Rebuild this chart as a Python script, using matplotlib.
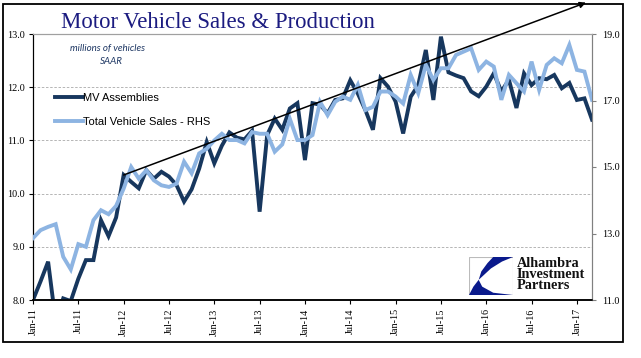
import matplotlib
matplotlib.use("Agg")
import matplotlib.pyplot as plt
from matplotlib.patches import Rectangle, Polygon
import numpy as np

# ===========================
# DATA (monthly, Jan-11 .. Mar-17)
# ===========================
mv_assemblies = [
    8.00, 8.35, 8.72, 7.60, 8.03, 7.98, 8.40, 8.75, 8.75, 9.50, 9.20, 9.55,
    10.35, 10.22, 10.10, 10.44, 10.28, 10.41, 10.32, 10.16, 9.85, 10.08, 10.47, 10.97,
    10.57, 10.90, 11.15, 11.05, 11.02, 11.18, 9.66, 11.10, 11.41, 11.20, 11.60, 11.70,
    10.63, 11.70, 11.67, 11.51, 11.76, 11.79, 12.13, 11.88, 11.57, 11.20, 12.17, 12.01,
    11.73, 11.13, 11.82, 12.04, 12.70, 11.76, 12.95, 12.28, 12.22, 12.17, 11.92, 11.83,
    12.01, 12.26, 11.92, 12.14, 11.61, 12.26, 12.04, 12.17, 12.15, 12.23, 11.98, 12.08,
    11.76, 11.79, 11.39,
]
total_sales = [
    12.86, 13.10, 13.20, 13.28, 12.30, 11.92, 12.68, 12.60, 13.40, 13.70, 13.58, 13.83,
    14.35, 15.00, 14.65, 14.90, 14.60, 14.45, 14.40, 14.50, 15.16, 14.81, 15.41, 15.55,
    15.80, 16.00, 15.81, 15.81, 15.71, 16.05, 16.00, 16.00, 15.46, 15.68, 16.45, 15.81,
    15.81, 15.96, 16.96, 16.56, 16.96, 17.12, 17.02, 17.47, 16.71, 16.81, 17.27, 17.27,
    17.12, 16.91, 17.77, 17.22, 18.07, 17.62, 17.97, 17.97, 18.37, 18.47, 18.57, 17.92,
    18.17, 18.02, 17.02, 17.77, 17.52, 17.27, 18.17, 17.32, 18.07, 18.27, 18.12, 18.67,
    17.92, 17.87, 17.02,
]
tick_labels = ["Jan-11", "Jul-11", "Jan-12", "Jul-12", "Jan-13", "Jul-13", "Jan-14",
               "Jul-14", "Jan-15", "Jul-15", "Jan-16", "Jul-16", "Jan-17"]
left_ticks = [8.0, 9.0, 10.0, 11.0, 12.0, 13.0]
right_ticks = [11.0, 13.0, 15.0, 17.0, 19.0]
trend_start = (12, 10.35)
trend_end = (73.2, 13.59)

months = np.arange(len(mv_assemblies))

# ===========================
# FIGURE
# ===========================
W, H = 641, 358
fig = plt.figure(figsize=(W / 100, H / 100), dpi=100)
fig.patch.set_facecolor("white")

ax = fig.add_axes([33 / W, 1 - 300 / H, (592 - 33) / W, (300 - 34) / H])
ax2 = ax.twinx()

dark = "#17375E"
light = "#8DB4E2"
serif = "Liberation Serif"

ax.plot(months, mv_assemblies, color=dark, lw=2.8, solid_joinstyle="miter",
        label="MV Assemblies", zorder=3)
ax2.plot(months, total_sales, color=light, lw=2.8, solid_joinstyle="miter",
         label="Total Vehicle Sales - RHS", zorder=3)

ax.set_xlim(0, len(months) - 1)
ax.set_ylim(8, 13)
ax2.set_ylim(11, 19)

ax.set_xticks(np.arange(0, len(months), 6))
ax.set_xticklabels(tick_labels, rotation=90, fontfamily=serif, fontsize=7.3)
ax.set_yticks(left_ticks)
ax.set_yticklabels([f"{v:.1f}" for v in left_ticks], fontfamily=serif, fontsize=7.3)
ax2.set_yticks(right_ticks)
ax2.set_yticklabels([f"{v:.1f}" for v in right_ticks], fontfamily=serif, fontsize=7.3)

ax.tick_params(axis="x", direction="out", length=3, width=0.8, pad=3)
ax.tick_params(axis="y", direction="out", length=3, width=0.8, pad=3)
ax2.tick_params(axis="y", direction="out", length=3, width=0.8, pad=4, color="#808080")

for a in (ax, ax2):
    a.spines["left"].set_color("black")
    a.spines["bottom"].set_color("black")
    a.spines["bottom"].set_linewidth(1.1)
    a.spines["top"].set_color("#A0A0A0")
    a.spines["right"].set_color("#808080")

ax.set_axisbelow(True)
ax.grid(axis="y", color="#AAAAAA", linestyle=(0, (3, 2)), lw=0.6)
ax.grid(axis="x", visible=False)

# trend arrow
ax2.annotate("", xy=trend_end, xytext=trend_start,
             xycoords=ax.transData, textcoords=ax.transData,
             arrowprops=dict(arrowstyle="-|>", color="black", lw=1.1,
                             mutation_scale=9, shrinkA=0, shrinkB=0),
             annotation_clip=False, zorder=5)

# legend
handles = ax.get_lines() + ax2.get_lines()
fig.legend(handles, [h.get_label() for h in handles],
           loc="upper left", bbox_to_anchor=(55 / W, 1 - 93 / H),
           frameon=False, borderpad=0, borderaxespad=0,
           handlelength=2.5, handletextpad=0.05, labelspacing=1.25,
           prop={"family": "Liberation Sans", "size": 8})

# title and notes
fig.text(61 / W, 1 - 28 / H, "Motor Vehicle Sales & Production",
         fontfamily=serif, fontsize=16.4, color="#1B1B80", va="baseline")
fig.text(108 / W, 1 - 48 / H, "millions of vehicles", fontfamily="Lato",
         style="italic", fontsize=7, color="#1F3864", ha="center", va="center")
fig.text(111 / W, 1 - 61 / H, "SAAR", fontfamily="Lato",
         style="italic", fontsize=7, color="#1F3864", ha="center", va="center")

# logo
logo = fig.add_axes([469 / W, 1 - 295 / H, 44 / W, 38 / H])
logo.set_xlim(0, 1)
logo.set_ylim(0, 1)
logo.axis("off")
logo.add_patch(Rectangle((0, 0), 1, 1, facecolor="white", edgecolor="#BBBBBB", lw=0.8))
logo.add_patch(Polygon([(0.55, 1.0), (1.0, 1.0), (0.75, 0.88), (0.5, 0.7),
                        (0.22, 0.4), (0.28, 0.62), (0.42, 0.84)],
                       closed=True, facecolor="#0A1A8C", edgecolor="none"))
logo.add_patch(Polygon([(0.0, 0.0), (0.1, 0.22), (0.22, 0.4), (0.3, 0.22),
                        (0.55, 0.06), (1.0, 0.0)],
                       closed=True, facecolor="#0A1A8C", edgecolor="none"))
fig.text(517 / W, 1 - 257 / H, "Alhambra\nInvestment\nPartners", fontfamily=serif,
         fontsize=10.3, fontweight="bold", color="#111111", va="top", ha="left",
         linespacing=0.82)

# outer border
fig.add_artist(Rectangle((3 / W, 1 - 342 / H), 620 / W, 338 / H,
                         transform=fig.transFigure, fill=False,
                         edgecolor="black", lw=1.3))

fig.savefig("out.png", dpi=100)
